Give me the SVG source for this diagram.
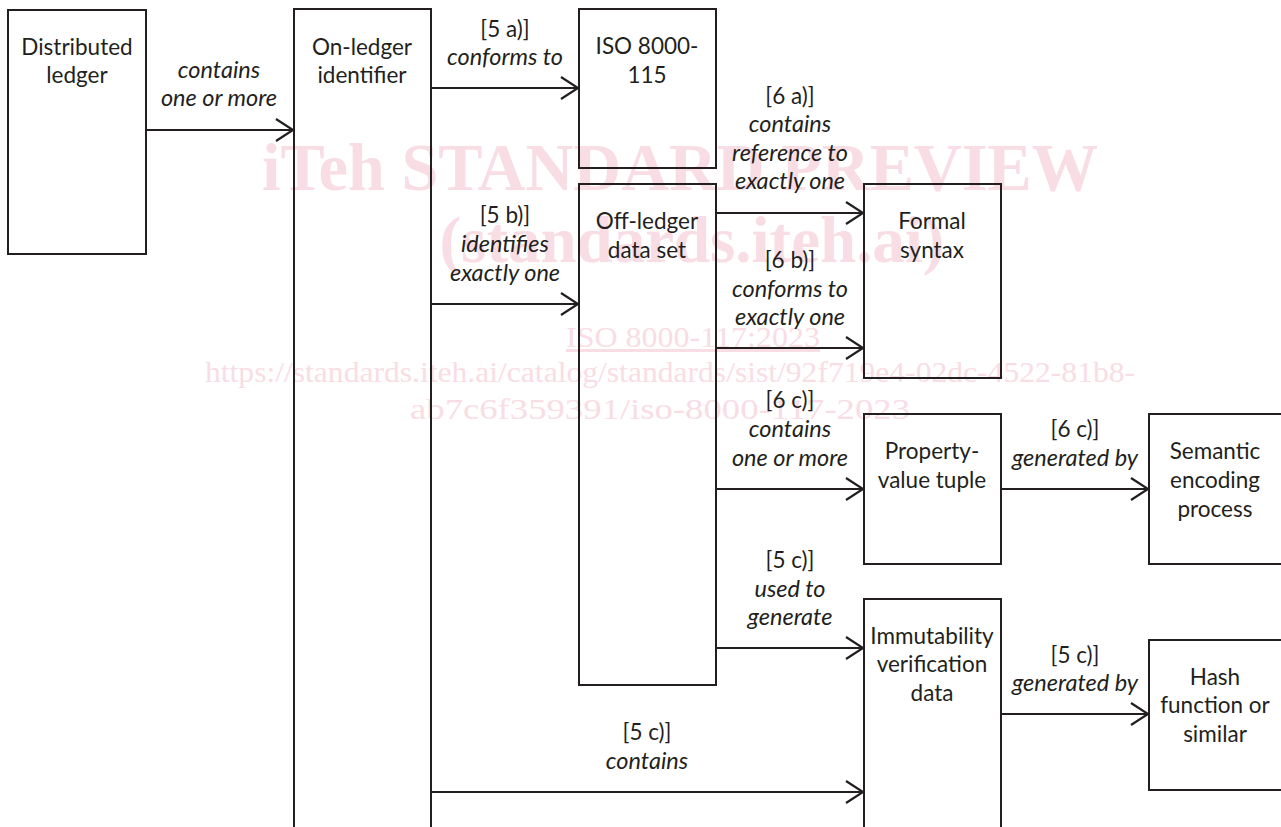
<svg xmlns="http://www.w3.org/2000/svg" width="1281" height="827" viewBox="0 0 1281 827">
<style>
.box{fill:none;stroke:#231f20;stroke-width:2}
.con{fill:none;stroke:#231f20;stroke-width:2.2;marker-end:url(#arr)}
text{font-family:Lato,"Open Sans","Liberation Sans",sans-serif;font-size:22.5px;fill:#231f20;text-anchor:middle}
.i{font-style:italic;font-size:23.5px}
.wm{font-family:"Liberation Serif","DejaVu Serif",serif;fill:#f9dde4}
</style>
<defs>
<marker id="arr" markerUnits="userSpaceOnUse" markerWidth="22" markerHeight="26" refX="19" refY="13" orient="auto">
<path d="M2,2 L19,13 L2,24" fill="none" stroke="#231f20" stroke-width="2.2"/>
</marker>
</defs>
<rect width="1281" height="827" fill="#fff"/>
<g id="watermark">
<text class="wm" x="680" y="190" style="font-size:68px;font-weight:bold" textLength="836" lengthAdjust="spacingAndGlyphs">iTeh STANDARD PREVIEW</text>
<text class="wm" x="692" y="262" style="font-size:66px;font-weight:bold" textLength="505" lengthAdjust="spacingAndGlyphs">(standards.iteh.ai)</text>
<text class="wm" x="693" y="347" style="font-size:30px;text-decoration:underline" textLength="254" lengthAdjust="spacingAndGlyphs">ISO 8000-117:2023</text>
<text class="wm" x="670" y="382" style="font-size:30px" textLength="930" lengthAdjust="spacingAndGlyphs">https://standards.iteh.ai/catalog/standards/sist/92f719e4-02dc-4522-81b8-</text>
<text class="wm" x="660" y="419" style="font-size:30px" textLength="500" lengthAdjust="spacingAndGlyphs">ab7c6f359391/iso-8000-117-2023</text>
</g>
<g id="connectors">
<line class="con" x1="146" y1="130" x2="293" y2="130"/>
<line class="con" x1="431" y1="88" x2="578" y2="88"/>
<line class="con" x1="431" y1="304" x2="578" y2="304"/>
<line class="con" x1="716" y1="213" x2="863" y2="213"/>
<line class="con" x1="716" y1="348" x2="863" y2="348"/>
<line class="con" x1="716" y1="489" x2="863" y2="489"/>
<line class="con" x1="1001" y1="489" x2="1148" y2="489"/>
<line class="con" x1="716" y1="648" x2="863" y2="648"/>
<line class="con" x1="1001" y1="714" x2="1148" y2="714"/>
<line class="con" x1="431" y1="792" x2="863" y2="792"/>
</g>
<g id="labels">
<text class="i" x="219" y="78">contains</text>
<text class="i" x="219" y="106">one or more</text>
<text x="505" y="37">[5 a)]</text>
<text class="i" x="505" y="65">conforms to</text>
<text x="505" y="223">[5 b)]</text>
<text class="i" x="505" y="252">identifies</text>
<text class="i" x="505" y="281">exactly one</text>
<text x="790" y="104">[6 a)]</text>
<text class="i" x="790" y="132">contains</text>
<text class="i" x="790" y="161">reference to</text>
<text class="i" x="790" y="189">exactly one</text>
<text x="790" y="268">[6 b)]</text>
<text class="i" x="790" y="297">conforms to</text>
<text class="i" x="790" y="325">exactly one</text>
<text x="790" y="408">[6 c)]</text>
<text class="i" x="790" y="437">contains</text>
<text class="i" x="790" y="466">one or more</text>
<text x="1075" y="437">[6 c)]</text>
<text class="i" x="1075" y="466">generated by</text>
<text x="790" y="568">[5 c)]</text>
<text class="i" x="790" y="597">used to</text>
<text class="i" x="790" y="625">generate</text>
<text x="1075" y="663">[5 c)]</text>
<text class="i" x="1075" y="691">generated by</text>
<text x="647" y="740">[5 c)]</text>
<text class="i" x="647" y="769">contains</text>
</g>
<g id="distributed-ledger">
<rect class="box" x="8" y="10" width="138" height="244"/>
<text x="77" y="55">Distributed</text>
<text x="77" y="83">ledger</text>
</g>
<g id="on-ledger-identifier">
<rect class="box" x="294" y="9" width="137" height="830"/>
<text x="362" y="55">On-ledger</text>
<text x="362" y="83">identifier</text>
</g>
<g id="iso-8000-115">
<rect class="box" x="579" y="9" width="137" height="159"/>
<text x="647" y="54">ISO 8000-</text>
<text x="647" y="83">115</text>
</g>
<g id="off-ledger-data-set">
<rect class="box" x="579" y="184" width="137" height="501"/>
<text x="647" y="229">Off-ledger</text>
<text x="647" y="258">data set</text>
</g>
<g id="formal-syntax">
<rect class="box" x="864" y="184" width="137" height="194"/>
<text x="932" y="229">Formal</text>
<text x="932" y="258">syntax</text>
</g>
<g id="property-value-tuple">
<rect class="box" x="864" y="414" width="137" height="150"/>
<text x="932" y="459">Property-</text>
<text x="932" y="488">value tuple</text>
</g>
<g id="semantic-encoding-process">
<rect class="box" x="1149" y="414" width="140" height="150"/>
<text x="1215" y="459">Semantic</text>
<text x="1215" y="488">encoding</text>
<text x="1215" y="517">process</text>
</g>
<g id="immutability-verification-data">
<rect class="box" x="864" y="599" width="137" height="240"/>
<text x="932" y="644">Immutability</text>
<text x="932" y="672">verification</text>
<text x="932" y="701">data</text>
</g>
<g id="hash-function">
<rect class="box" x="1149" y="640" width="140" height="150"/>
<text x="1215" y="685">Hash</text>
<text x="1215" y="713">function or</text>
<text x="1215" y="742">similar</text>
</g>
</svg>
